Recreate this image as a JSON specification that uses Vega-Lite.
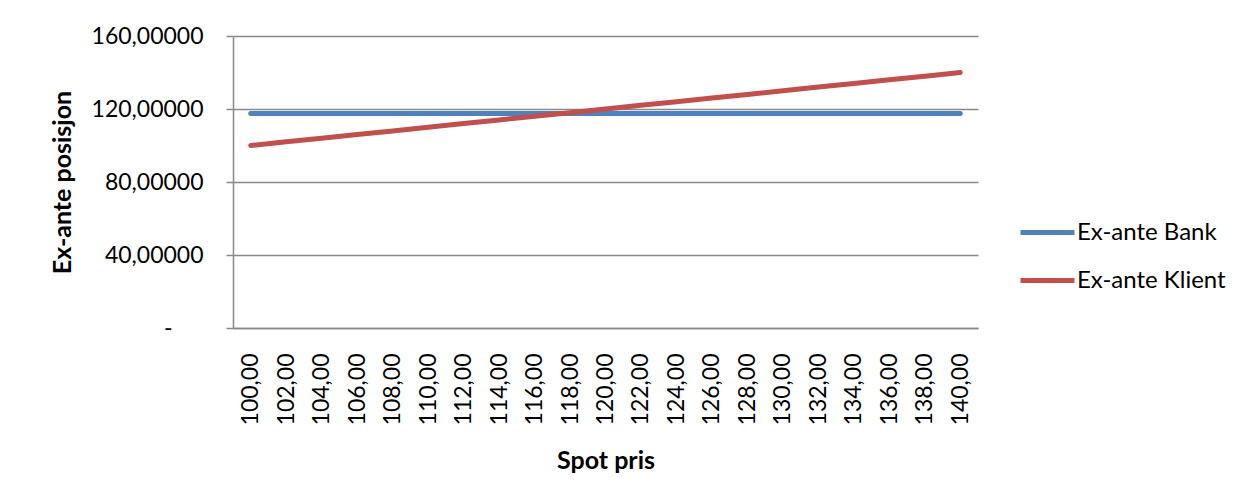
{
  "$schema": "https://vega.github.io/schema/vega-lite/v6.json",
  "autosize": {"type": "none"},
  "padding": {"left": 233, "top": 36, "right": 272, "bottom": 172},
  "width": 745,
  "height": 292,
  "background": "white",
  "config": {
    "font": "Lato",
    "view": {"stroke": null}
  },
  "data": {
    "values": [
      {"spot": 100, "serie": "Ex-ante Bank", "verdi": 117.6},
      {"spot": 102, "serie": "Ex-ante Bank", "verdi": 117.6},
      {"spot": 104, "serie": "Ex-ante Bank", "verdi": 117.6},
      {"spot": 106, "serie": "Ex-ante Bank", "verdi": 117.6},
      {"spot": 108, "serie": "Ex-ante Bank", "verdi": 117.6},
      {"spot": 110, "serie": "Ex-ante Bank", "verdi": 117.6},
      {"spot": 112, "serie": "Ex-ante Bank", "verdi": 117.6},
      {"spot": 114, "serie": "Ex-ante Bank", "verdi": 117.6},
      {"spot": 116, "serie": "Ex-ante Bank", "verdi": 117.6},
      {"spot": 118, "serie": "Ex-ante Bank", "verdi": 117.6},
      {"spot": 120, "serie": "Ex-ante Bank", "verdi": 117.6},
      {"spot": 122, "serie": "Ex-ante Bank", "verdi": 117.6},
      {"spot": 124, "serie": "Ex-ante Bank", "verdi": 117.6},
      {"spot": 126, "serie": "Ex-ante Bank", "verdi": 117.6},
      {"spot": 128, "serie": "Ex-ante Bank", "verdi": 117.6},
      {"spot": 130, "serie": "Ex-ante Bank", "verdi": 117.6},
      {"spot": 132, "serie": "Ex-ante Bank", "verdi": 117.6},
      {"spot": 134, "serie": "Ex-ante Bank", "verdi": 117.6},
      {"spot": 136, "serie": "Ex-ante Bank", "verdi": 117.6},
      {"spot": 138, "serie": "Ex-ante Bank", "verdi": 117.6},
      {"spot": 140, "serie": "Ex-ante Bank", "verdi": 117.6},
      {"spot": 100, "serie": "Ex-ante Klient", "verdi": 100},
      {"spot": 102, "serie": "Ex-ante Klient", "verdi": 102},
      {"spot": 104, "serie": "Ex-ante Klient", "verdi": 104},
      {"spot": 106, "serie": "Ex-ante Klient", "verdi": 106},
      {"spot": 108, "serie": "Ex-ante Klient", "verdi": 108},
      {"spot": 110, "serie": "Ex-ante Klient", "verdi": 110},
      {"spot": 112, "serie": "Ex-ante Klient", "verdi": 112},
      {"spot": 114, "serie": "Ex-ante Klient", "verdi": 114},
      {"spot": 116, "serie": "Ex-ante Klient", "verdi": 116},
      {"spot": 118, "serie": "Ex-ante Klient", "verdi": 118},
      {"spot": 120, "serie": "Ex-ante Klient", "verdi": 120},
      {"spot": 122, "serie": "Ex-ante Klient", "verdi": 122},
      {"spot": 124, "serie": "Ex-ante Klient", "verdi": 124},
      {"spot": 126, "serie": "Ex-ante Klient", "verdi": 126},
      {"spot": 128, "serie": "Ex-ante Klient", "verdi": 128},
      {"spot": 130, "serie": "Ex-ante Klient", "verdi": 130},
      {"spot": 132, "serie": "Ex-ante Klient", "verdi": 132},
      {"spot": 134, "serie": "Ex-ante Klient", "verdi": 134},
      {"spot": 136, "serie": "Ex-ante Klient", "verdi": 136},
      {"spot": 138, "serie": "Ex-ante Klient", "verdi": 138},
      {"spot": 140, "serie": "Ex-ante Klient", "verdi": 140}
    ]
  },
  "mark": {"type": "line", "strokeWidth": 5, "strokeCap": "round"},
  "encoding": {
    "x": {
      "field": "spot",
      "type": "ordinal",
      "scale": {"padding": 0.5},
      "axis": {
        "title": "Spot pris",
        "titleFont": "Lato",
        "titleFontSize": 25,
        "titleFontWeight": "bold",
        "titleColor": "#000000",
        "titlePadding": 24,
        "labelExpr": "replace(format(datum.value, '.2f'), '.', ',')",
        "labelAngle": 270,
        "labelFontSize": 23,
        "labelColor": "#000000",
        "labelPadding": 25,
        "ticks": false,
        "domainColor": "#888888",
        "domainWidth": 1.5,
        "grid": false
      }
    },
    "y": {
      "field": "verdi",
      "type": "quantitative",
      "scale": {"domain": [0, 160], "nice": false},
      "axis": {
        "title": "Ex-ante posisjon",
        "titleFontSize": 25,
        "titleFontWeight": "bold",
        "titleColor": "#000000",
        "titleX": -163,
        "titleY": 146,
        "titleAngle": 270,
        "titleAlign": "center",
        "titleBaseline": "alphabetic",
        "values": [0, 40, 80, 120, 160],
        "labelExpr": "datum.value == 0 ? '-' : replace(format(datum.value, '.5f'), '.', ',')",
        "labelFontSize": 23,
        "labelColor": "#000000",
        "labelPadding": {"condition": {"test": "datum.value == 0", "value": 54}, "value": 23},
        "tickSize": 7,
        "tickColor": "#888888",
        "tickWidth": 1.5,
        "domainColor": "#888888",
        "domainWidth": 1.5,
        "grid": true,
        "gridColor": "#888888",
        "gridWidth": 1.5
      }
    },
    "color": {
      "field": "serie",
      "type": "nominal",
      "scale": {
        "domain": ["Ex-ante Bank", "Ex-ante Klient"],
        "range": ["#4F81BD", "#C0504D"]
      },
      "legend": {
        "title": null,
        "orient": "none",
        "legendX": 785,
        "legendY": 167,
        "symbolType": "stroke",
        "symbolSize": 2916,
        "symbolStrokeWidth": 5,
        "labelFontSize": 24,
        "labelColor": "#000000",
        "labelOffset": 0,
        "rowPadding": 6
      }
    }
  }
}
